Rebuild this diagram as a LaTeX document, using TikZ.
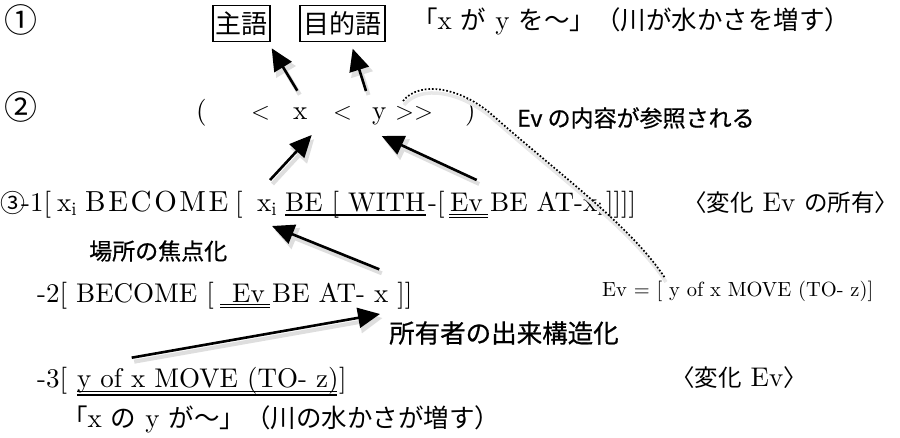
\documentclass[tikz,border=0pt]{standalone}
\usepackage{fontspec}
\setmainfont{lmroman10-regular.otf}[BoldFont=lmroman10-bold.otf, ItalicFont=lmroman10-italic.otf]
\newfontfamily\jp{Noto Sans CJK JP}
\newfontfamily\jpg{Noto Sans CJK JP}[FakeBold=0.7]
\usetikzlibrary{arrows.meta,calc}
\newcommand\J[1]{{\fontsize{25.5}{30}\selectfont\jp #1}}
\newcommand\Js[1]{{\fontsize{23.5}{30}\selectfont\jp #1}}
\tikzset{
  lat/.style={inner sep=0pt, anchor=base west, font=\fontsize{27}{32}\selectfont},
  goth/.style={inner sep=0pt, anchor=west, font=\fontsize{23}{28}\selectfont\jpg},
  circ/.style={inner sep=0pt, anchor=center, font=\fontsize{33}{36}\selectfont\jp},
  boxj/.style={draw, line width=1.8pt, inner sep=0pt, minimum height=36pt, font=\fontsize{26}{30}\selectfont\jp},
  bigarrow/.style={line width=2.6pt, -{Triangle[length=22pt,width=20pt]}},
  shadowarrow/.style={draw=black!13, line width=4pt, -{Triangle[length=23pt,width=22pt]}, transform canvas={xshift=2.5pt,yshift=-4pt}},
  uline/.style={line width=1.2pt},
  dotline/.style={line width=1.7pt, dash pattern=on 1.7pt off 1.9pt},
  dotshadow/.style={draw=black!9, line width=3.5pt, transform canvas={xshift=1pt,yshift=-4pt}}
}
\begin{document}
\begin{tikzpicture}[x=1pt,y=-1pt]
\path[use as bounding box] (0,0) rectangle (900,438);

% row 1
\node[circ] (c1) at (21,20) {①};
\node[boxj, minimum width=57pt] (subj) at (241.5,23.5) {主語};
\node[boxj, minimum width=85pt] (obj) at (342.5,23.5) {目的語};
\node[lat] (r1) at (412,30) {\J{「}x \J{が} y \J{を〜」（川が水かさを増す）}};

% row 2
\node[circ] (c2) at (21,107) {②};
\node[lat] (lp) at (196,120) {(};
\node[lat] (lt1) at (251,120) {$<$};
\node[lat] (xx) at (293,120) {x};
\node[lat] (lt2) at (333,120) {$<$};
\node[lat] (yy) at (372,120) {y};
\node[lat] (gt1) at (395,120) {$>$};
\node[lat] (gt2) at (414,120) {$>$};
\node[lat] (rp) at (465,120) {)};
\node[goth] (refd) at (517,118) {Ev の内容が参照される};

% row 3-1
\node[circ, anchor=west, font=\fontsize{25}{30}\selectfont\jp] (c3) at (0,203) {③};
\node[lat] (r31a) at (21,212) {-1[};
\node[lat] (r31x) at (57,212) {x$_{\mathrm{i}}$};
\node[lat, font=\fontsize{29}{32}\selectfont] (r31bec) at (85,212) {\addfontfeature{LetterSpace=9}BECOME};
\node[lat] (r31br) at (235,212) {[};
\node[lat] (r31x2) at (257,212) {x$_{\mathrm{i}}$};
\node[lat] (r31b) at (285,212) {BE [ WITH};
\node[lat] (r31c) at (428,212) {-[};
\node[lat] (r31d) at (450,212) {Ev};
\node[lat] (r31e) at (490,212) {BE AT-x$_{\mathrm{i}}$};
\node[lat] (r31f) at (606,212) {]]]]};
\node[lat] (r31g) at (683,212) {\Js{〈変化} Ev \Js{の所有〉}\hspace{-14pt}};
\node[goth] (focus) at (89,251) {場所の焦点化};

% row -2
\node[lat] (r2a) at (37,303) {-2[ BECOME [};
\node[lat] (r2b) at (232,303) {Ev};
\node[lat] (r2c) at (272,303) {BE AT- x ]]};
\node[lat, font=\fontsize{20.5}{24}\selectfont] (evdef) at (602,297) {Ev = [ y of x MOVE (TO- z)]};
\node[goth, font=\fontsize{25.5}{30}\selectfont\jpg] (own) at (389,333) {所有者の出来構造化};

% row -3
\node[lat] (r3a) at (37,388) {-3[};
\node[lat] (r3b) at (77,388) {y of x MOVE (TO- z)};
\node[lat] (r3c) at (339,388) {]};
\node[lat] (r3d) at (671,386) {\Js{〈変化} Ev\Js{〉}};

% bottom row
\node[lat] (r4) at (62,428) {\J{「}x \J{の} y \J{が〜」（川の水かさが増す）}};

% underlines
\draw[uline] ($(r31b.base west)+(0,3)$) -- ($(r31b.base east)+(0,3)$);
\draw[uline] ($(r31d.base west)+(-1,2.2)$) -- ($(r31d.base east)+(5,2.2)$);
\draw[uline] ($(r31d.base west)+(-1,5.6)$) -- ($(r31d.base east)+(5,5.6)$);
\draw[uline] ($(r2b.base west)+(-12,1.5)$) -- ($(r2b.base east)+(5,1.5)$);
\draw[uline] ($(r2b.base west)+(-12,4.9)$) -- ($(r2b.base east)+(5,4.9)$);
\draw[uline] ($(r3b.base west)+(0,3.5)$) -- ($(r3b.base east)+(-2,3.5)$);
\draw[uline] ($(r3b.base west)+(0,6.9)$) -- ($(r3b.base east)+(-2,6.9)$);

% arrow end points
\coordinate (a1s) at (297.3,90.7); \coordinate (a1e) at (271.7,48.3);
\coordinate (a2s) at (366,91);     \coordinate (a2e) at (352.7,48.7);
\coordinate (a3s) at (270,180);    \coordinate (a3e) at (311.7,135);
\coordinate (a4s) at (476.7,180);  \coordinate (a4e) at (381.7,136);
\coordinate (a5s) at (379.3,269.3);\coordinate (a5e) at (272,226);
\coordinate (a6s) at (131.7,357.7);\coordinate (a6e) at (380,314);
\coordinate (d0) at (403,101); \coordinate (dm) at (490,113); \coordinate (d1) at (665,278);

% dotted reference curve
\draw[dotshadow] (d0) .. controls (420,80) and (460,88) .. (dm) .. controls (560,175) and (630,225) .. (d1);
\draw[dotline] (d0) .. controls (420,80) and (460,88) .. (dm) .. controls (560,175) and (630,225) .. (d1);

% arrows
\foreach \s/\e in {a1s/a1e,a2s/a2e,a3s/a3e,a4s/a4e,a5s/a5e,a6s/a6e}{
  \draw[shadowarrow] (\s) -- (\e);
}
\foreach \s/\e in {a1s/a1e,a2s/a2e,a3s/a3e,a4s/a4e,a5s/a5e,a6s/a6e}{
  \draw[bigarrow] (\s) -- (\e);
}
\end{tikzpicture}
\end{document}
